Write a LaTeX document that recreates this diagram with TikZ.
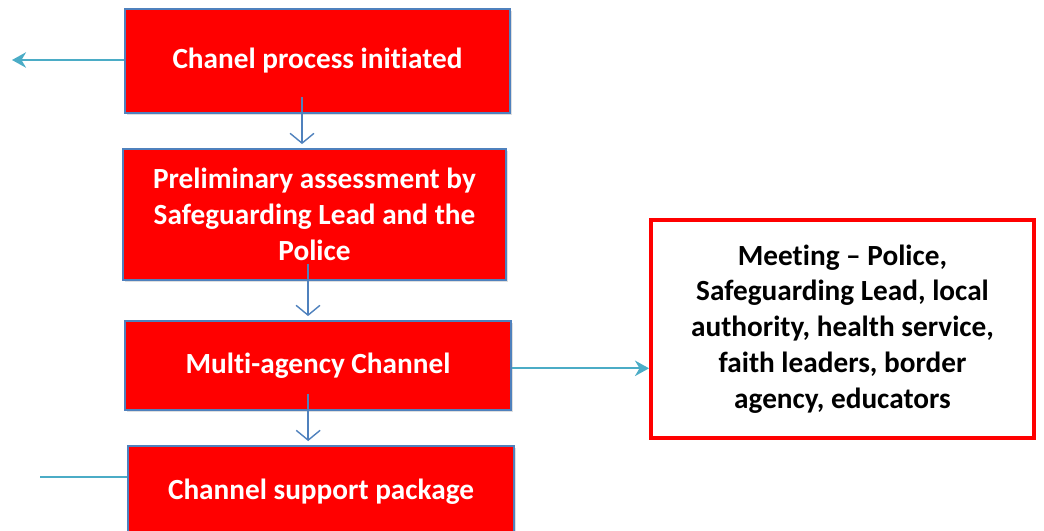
\documentclass[tikz,border=0pt]{standalone}
\usepackage{fontspec}
\setmainfont{Carlito}[Ligatures={NoCommon,NoContextual}]
\usetikzlibrary{arrows.meta,shadows,calc}
\definecolor{boxred}{HTML}{FF0000}
\definecolor{edgeblue}{HTML}{4F81BD}
\definecolor{linkcyan}{HTML}{4BACC6}
\begin{document}
\begin{tikzpicture}[x=0.025cm,y=-0.025cm,
    stepbox/.style={draw=edgeblue,line width=1pt,fill=boxred,text=white,font=\bfseries\fontsize{20.8}{25.5}\selectfont,
      align=center,inner sep=0pt,drop shadow={shadow xshift=1.5pt,shadow yshift=-1.5pt,opacity=.25}},
    meetbox/.style={draw=boxred,line width=2.8pt,fill=white,text=black,font=\bfseries\fontsize{20.8}{25.5}\selectfont,
      align=center,inner sep=0pt},
    downlink/.style={draw=edgeblue,line width=1pt,shorten >=3pt,-{Straight Barb[length=7pt,width=17pt]}},
    sidelink/.style={draw=linkcyan,line width=1.4pt,-{Stealth[length=10pt,width=11pt]}}]
      \useasboundingbox (0,0) rectangle (1044,531);
      \node[stepbox,minimum width=385*0.025cm,minimum height=104*0.025cm] (chanel) at (317.5,61) {Chanel process initiated};
      \node[stepbox,minimum width=383*0.025cm,minimum height=131*0.025cm] (prelim) at (314.5,214.5) {Preliminary assessment by\\Safeguarding Lead and the\\Police};
      \node[stepbox,minimum width=386*0.025cm,minimum height=89*0.025cm] (multi) at (318,365.5) {Multi-agency Channel};
      \node[stepbox,minimum width=386*0.025cm,minimum height=92*0.025cm] (support) at (321,492) {Channel support package};
      \node[meetbox,minimum width=383*0.025cm,minimum height=218*0.025cm] (meeting) at (842.5,329) {Meeting -- Police,\\Safeguarding Lead, local\\authority, health service,\\faith leaders, border\\agency, educators};
      \coordinate (outtop) at (12,60);
      \coordinate (outbot) at (40,477);
      % links
      \draw[sidelink] (chanel.west |- outtop) -- (outtop);
      \draw[downlink] ([xshift=-11pt,yshift=12pt]chanel.south) coordinate (a1) -- (a1 |- prelim.north);
      \draw[downlink] ([xshift=-4.6pt,yshift=12pt]prelim.south) coordinate (a2) -- (a2 |- multi.north);
      \draw[downlink] ([xshift=-7pt,yshift=12pt]multi.south) coordinate (a3) -- (a3 |- support.north);
      \draw[sidelink] ([yshift=-2pt]multi.east) -- ([yshift=-2pt]multi.east -| meeting.west);
      \draw[draw=linkcyan,line width=1.4pt] (support.west |- outbot) -- (outbot);
\end{tikzpicture}
\end{document}
